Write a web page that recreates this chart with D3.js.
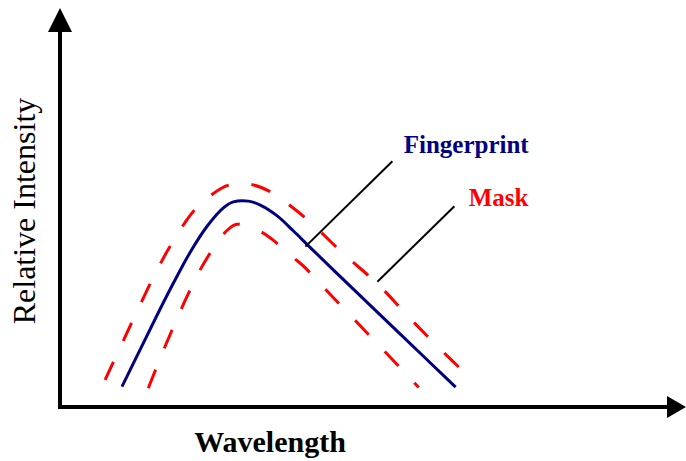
<!DOCTYPE html>
<html>
<head>
<meta charset="utf-8">
<script src="https://cdn.jsdelivr.net/npm/d3@7"></script>
<style>
  body { margin: 0; background: #fff; }
  svg { display: block; }
  text { font-family: "Liberation Serif", "Times New Roman", serif; }
</style>
</head>
<body>
<div id="chart"></div>
<script>
const width = 686;
const height = 461;

// schematic data, both axes in relative units 0..100
const fingerprintX = [9.9, 12.8, 15.5, 18.1, 20.8, 23.5, 26.1, 27.7, 30.1, 32.0, 34.7, 37.3, 39.7, 43.7, 54.4, 63.2];
const fingerprintY = [5.1, 14.4, 23.0, 31.0, 38.8, 45.3, 49.9, 51.4, 51.6, 50.6, 47.9, 44.1, 40.4, 34.3, 18.2, 5.0];

const maskUpperX = [7.2, 10.1, 12.5, 15.2, 18.1, 21.9, 26.9, 30.4, 33.9, 36.5, 39.5, 45.3, 50.9, 55.5, 60.3, 66.1];
const maskUpperY = [6.8, 16.6, 24.6, 33.4, 41.6, 50.0, 55.6, 55.8, 53.7, 50.8, 47.0, 38.4, 30.6, 22.9, 15.2, 6.4];

const maskLowerX = [14.1, 16.0, 17.9, 20.5, 23.2, 26.7, 28.3, 32.0, 33.9, 37.3, 38.9, 42.7, 47.2, 52.0, 57.3];
const maskLowerY = [4.7, 12.2, 19.3, 28.4, 36.6, 44.3, 45.8, 44.0, 42.0, 37.4, 35.3, 29.0, 21.6, 13.7, 4.9];

// annotation labels and where their leader lines point
const labels = ["Fingerprint", "Mask"];
const labelX = [54.9, 65.3];
const labelY = [63.6, 50.3];
const leaderFrom = [[53.1, 61.6], [63.0, 50.3]];
const leaderTo = [[39.2, 40.2], [50.7, 31.4]];

const xTitle = "Wavelength";
const yTitle = "Relative Intensity";

let svg = d3.select("#chart")
    .append("svg")
    .attr("width", width)
    .attr("height", height);

//scales
let xScale = d3.scaleLinear().domain([0, 100]).range([60, 686]);
let yScale = d3.scaleLinear().domain([0, 100]).range([407, 8]);

const zip = (xs, ys) => xs.map((x, i) => [x, ys[i]]);

let line = d3.line()
    .x(d => xScale(d[0]))
    .y(d => yScale(d[1]))
    .curve(d3.curveCatmullRom.alpha(0.5));

//axes with arrow heads
let x0 = xScale(0), y0 = yScale(0);
let xEnd = xScale.range()[1], yEnd = yScale.range()[1];

svg.append("line")
    .attr("x1", x0 - 2).attr("y1", y0)
    .attr("x2", xEnd - 10).attr("y2", y0)
    .attr("stroke", "#000").attr("stroke-width", 4);
svg.append("line")
    .attr("x1", x0).attr("y1", y0 + 2)
    .attr("x2", x0).attr("y2", yEnd + 10)
    .attr("stroke", "#000").attr("stroke-width", 4);

svg.append("path")
    .attr("d", `M${xEnd},${y0} L${xEnd - 19},${y0 - 11} L${xEnd - 19},${y0 + 11} Z`)
    .attr("fill", "#000");
svg.append("path")
    .attr("d", `M${x0},${yEnd} L${x0 - 12},${yEnd + 24} L${x0 + 12},${yEnd + 24} Z`)
    .attr("fill", "#000");

//mask curves
[zip(maskUpperX, maskUpperY), zip(maskLowerX, maskLowerY)].forEach(pts => {
    svg.append("path")
        .attr("d", line(pts))
        .attr("fill", "none")
        .attr("stroke", "#ff0000")
        .attr("stroke-width", 3)
        .attr("stroke-dasharray", "20,23");
});

//fingerprint curve
svg.append("path")
    .attr("d", line(zip(fingerprintX, fingerprintY)))
    .attr("fill", "none")
    .attr("stroke", "#000080")
    .attr("stroke-width", 3);

//leader lines
leaderFrom.forEach((p, i) => {
    svg.append("line")
        .attr("x1", xScale(p[0])).attr("y1", yScale(p[1]))
        .attr("x2", xScale(leaderTo[i][0])).attr("y2", yScale(leaderTo[i][1]))
        .attr("stroke", "#000").attr("stroke-width", 2);
});

//annotation text
const labelColors = ["#000080", "#ff0000"];
labels.forEach((t, i) => {
    svg.append("text")
        .attr("x", xScale(labelX[i]))
        .attr("y", yScale(labelY[i]))
        .attr("font-size", 25)
        .attr("font-weight", "bold")
        .attr("fill", labelColors[i])
        .text(t);
});

//axis titles
svg.append("text")
    .attr("x", 270)
    .attr("y", 452)
    .attr("text-anchor", "middle")
    .attr("font-size", 30)
    .attr("font-weight", "bold")
    .text(xTitle);

svg.append("text")
    .attr("transform", "translate(35,211) rotate(-90)")
    .attr("text-anchor", "middle")
    .attr("font-size", 32)
    .text(yTitle);
</script>
</body>
</html>
